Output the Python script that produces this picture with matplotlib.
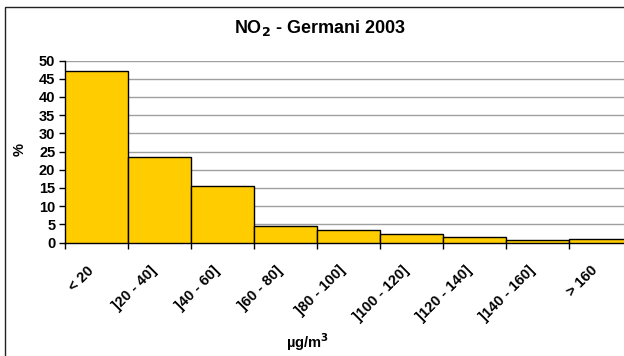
import matplotlib
matplotlib.use("Agg")
import matplotlib.pyplot as plt
from matplotlib.patches import Rectangle
from matplotlib.transforms import ScaledTranslation
import numpy as np

plt.rcParams["font.family"] = ["Liberation Sans", "DejaVu Sans"]

# NO2 concentration classes (µg/m3) and share of stations (%)
categories = ["< 20", "]20 - 40]", "]40 - 60]", "]60 - 80]", "]80 - 100]",
              "]100 - 120]", "]120 - 140]", "]140 - 160]", "> 160"]
percent = [47.0, 23.6, 15.6, 4.6, 3.35, 2.25, 1.6, 0.8, 1.0]
y_ticks = [0, 5, 10, 15, 20, 25, 30, 35, 40, 45, 50]

W, H = 624, 356
fig = plt.figure(figsize=(W / 100, H / 100), dpi=100)

# outer chart frame (cropped on the right and bottom like the source)
fig.patches.append(Rectangle((4.5 / W, -0.1), 1.2, (H - 7) / H + 0.1,
                             transform=fig.transFigure, fill=False,
                             edgecolor="#222222", linewidth=1.0))

left, right, top, bottom = 65, 632, 60.5, 242.5
ax = fig.add_axes([left / W, (H - bottom) / H, (right - left) / W, (bottom - top) / H])

x = np.arange(len(categories))
ax.bar(x, percent, width=1.0, align="edge", color="#FFCC00",
       edgecolor="black", linewidth=1.0, zorder=3)

ax.set_xlim(0, len(categories))
ax.set_ylim(0, 50)
ax.set_yticks(y_ticks)
ax.set_yticklabels([str(v) for v in y_ticks], fontsize=10.5, fontweight="bold")
ax.yaxis.grid(True, color="#a0a0a0", linewidth=1.0, zorder=0)

# tick marks at bin edges, labels at bin centres
ax.set_xticks(x, minor=True)
ax.set_xticks(x + 0.5)
ax.set_xticklabels(categories, rotation=45, ha="right", rotation_mode="anchor",
                   fontsize=10.5, fontweight="bold")
ax.tick_params(axis="x", which="major", length=0, pad=15)
ax.tick_params(axis="x", which="minor", length=4, direction="out", width=1)
ax.tick_params(axis="y", length=4, direction="out", width=1, pad=3)
shift = ScaledTranslation(-10 / 100, 0, fig.dpi_scale_trans)
for lab in ax.get_xticklabels():
    lab.set_transform(lab.get_transform() + shift)

for side in ["top", "right"]:
    ax.spines[side].set_visible(False)
ax.spines["left"].set_linewidth(1.0)
ax.spines["bottom"].set_linewidth(1.0)

fig.text(320 / W, 1 - 28 / H, r"NO$_\mathbf{2}$ - Germani 2003", ha="center", va="center",
         fontsize=13, fontweight="bold")
fig.text(20 / W, 1 - 150 / H, "%", rotation=90, ha="center", va="center",
         fontsize=10.5, fontweight="bold")
fig.text(307 / W, 1 - 342 / H, "µg/m$^\\mathbf{3}$", ha="center", va="center",
         fontsize=10.5, fontweight="bold")

fig.savefig("out.png", dpi=100)
